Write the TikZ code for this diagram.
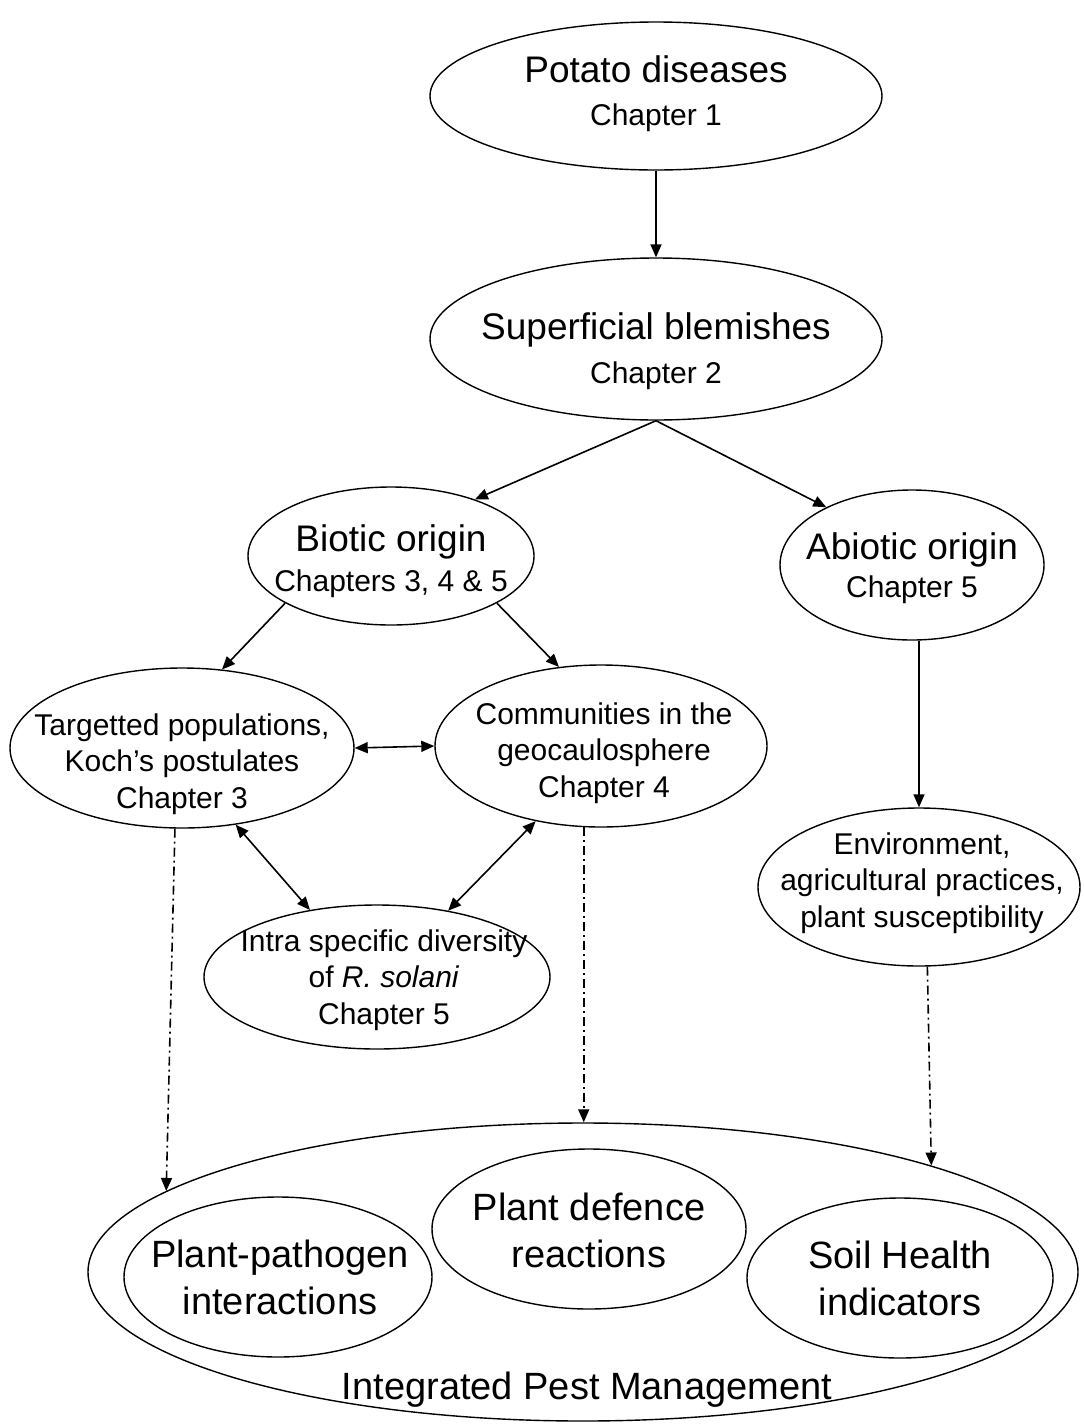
\documentclass[tikz,border=0pt]{standalone}
\usepackage{fontspec}
\setmainfont{Liberation Sans}
\usetikzlibrary{shapes.geometric,arrows.meta}

\tikzset{
  oval/.style={draw, ellipse, line width=0.7pt, inner sep=0pt},
  txt/.style={align=center, inner sep=0pt, font=\fontsize{15}{18.2}\selectfont},
  bigtxt/.style={align=center, inner sep=0pt, font=\fontsize{19}{23.5}\selectfont},
  link/.style={-{Triangle[length=6.5pt,width=5.5pt]}, line width=0.8pt},
  twoway/.style={{Triangle[length=6.5pt,width=5.5pt]}-{Triangle[length=6.5pt,width=5.5pt]}, line width=0.8pt},
  dashdot/.style={link, dash pattern=on 4.5pt off 2pt on 1pt off 2pt},
}
\newcommand{\headline}[1]{{\fontsize{18.5}{22}\selectfont #1}}

\begin{document}
\begin{tikzpicture}[x=0.5pt,y=-0.5pt]
  \useasboundingbox (0,0) rectangle (1083,1425);

  % ovals
  \node[oval, minimum width=226pt, minimum height=74pt] (pot) at (656,96) {};
  \node[oval, minimum width=226pt, minimum height=81pt] (sup) at (656,339) {};
  \node[oval, minimum width=143pt, minimum height=69pt] (bio) at (391,556) {};
  \node[oval, minimum width=132pt, minimum height=75pt] (abi) at (912,565) {};
  \node[oval, minimum width=172pt, minimum height=80pt] (tgt) at (182,748) {};
  \node[oval, minimum width=166pt, minimum height=81pt] (com) at (601,746) {};
  \node[oval, minimum width=173pt, minimum height=72pt] (intra) at (377,977) {};
  \node[oval, minimum width=161pt, minimum height=79pt] (env) at (919,887) {};
  \node[oval, minimum width=495pt, minimum height=149pt] (ipm) at (583,1272) {};
  \node[oval, minimum width=154pt, minimum height=80pt] (pp) at (278,1277) {};
  \node[oval, minimum width=157pt, minimum height=80pt] (pd) at (589,1229) {};
  \node[oval, minimum width=153pt, minimum height=80pt] (soil) at (900,1278) {};

  % texts
  \node[txt] (pot-t) at (656,94) {\headline{Potato diseases}\\[3.5pt] Chapter 1};
  \node[txt] (sup-t) at (656,351) {\headline{Superficial blemishes}\\[4pt] Chapter 2};
  \node[txt] (bio-t) at (391,561) {\headline{Biotic origin}\\[1.5pt] Chapters 3, 4 \& 5};
  \node[txt] (abi-t) at (912,568) {\headline{Abiotic origin}\\[1pt] Chapter 5};
  \node[txt] (tgt-t) at (182,764) {Targetted populations,\\ Koch’s postulates\\ Chapter 3};
  \node[txt] (com-t) at (604,753) {Communities in the\\ geocaulosphere\\ Chapter 4};
  \node[txt] (intra-t) at (384,980) {Intra specific diversity\\ of \textit{R. solani}\\ Chapter 5};
  \node[txt] (env-t) at (922,883) {Environment,\\ agricultural practices,\\ plant susceptibility};
  \node[bigtxt] (pp-t) at (280,1277) {Plant-pathogen\\ interactions};
  \node[bigtxt] (pd-t) at (589,1230) {Plant defence\\ reactions};
  \node[bigtxt] (soil-t) at (900,1278) {Soil Health\\ indicators};
  \node[bigtxt] (ipm-t) at (587,1390) {Integrated Pest Management};

  % connectors
  \draw[link] (pot.south) -- (sup.north);
  \draw[link] (sup.south) -- (bio.34);
  \draw[link] (sup.south) -- (abi.146);
  \draw[link] (bio.204) -- (tgt.63);
  \draw[link] (bio.336) -- (com.118);
  \draw[link] (abi.south -| env.north) -- (env.north);
  \draw[twoway] (tgt.east) -- (com.west);
  \draw[twoway] (tgt.305) -- (intra.135);
  \draw[twoway] (com.229) -- (intra.43);
  \draw[dashdot] (tgt.265) -- (ipm.169);
  \draw[dashdot] (com.258) -- (com.258 |- ipm.north);
  \draw[dashdot] (env.276) -- (ipm.17);
\end{tikzpicture}
\end{document}
